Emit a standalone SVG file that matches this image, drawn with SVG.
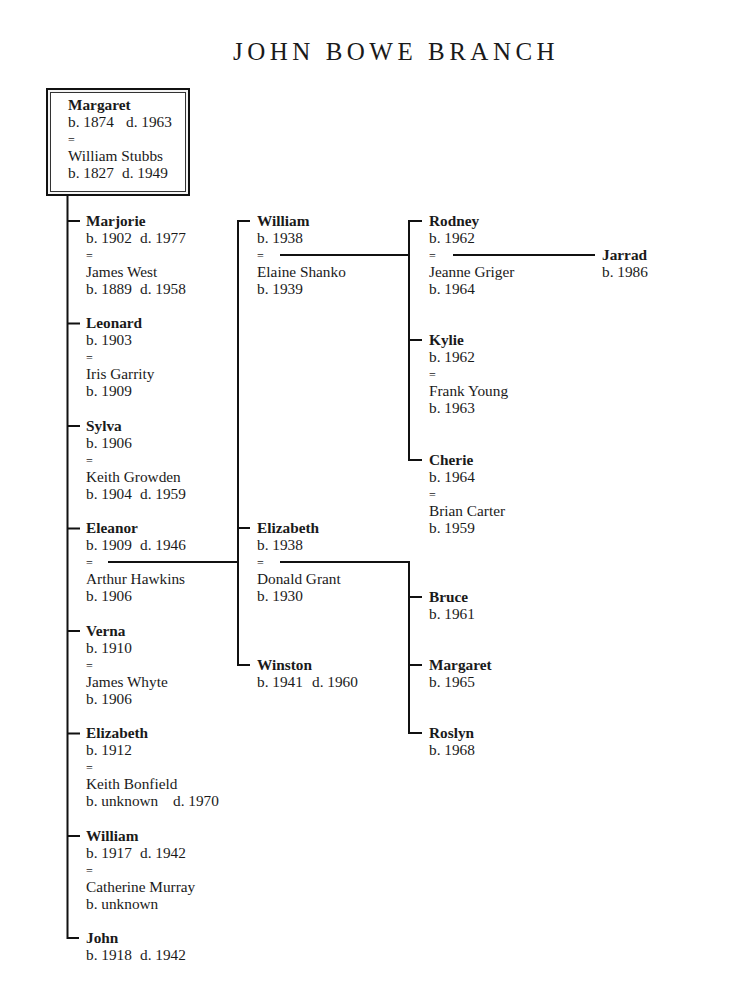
<svg xmlns="http://www.w3.org/2000/svg" width="736" height="1000" viewBox="0 0 736 1000">
<style>
text{font-family:"Liberation Serif","Times New Roman",serif;font-size:15.3px;fill:#1a1a1a}
.n{font-weight:bold}
.t{font-size:25px;letter-spacing:4.5px}
.eq{font-size:12px}
.c{fill:none;stroke:#111;stroke-width:2}
</style>
<rect width="736" height="1000" fill="#fff"/>
<text class="t" x="233" y="60">JOHN BOWE BRANCH</text>

<g id="connectors" class="c">
<path d="M67.5,196 V938 H79"/>
<path d="M67 221 H80 M67 323.5 H80 M67 426 H80 M67 528.5 H80 M67 631 H80 M67 733.5 H80 M67 836 H80"/>
<path d="M108,562 H238"/>
<path d="M250,221 H238 V665 H250 M238,528 H250"/>
<path d="M280,255 H409"/>
<path d="M422,221 H409 V460 H422 M409,340 H422"/>
<path d="M453,255 H595"/>
<path d="M280,562 H409 V733 H422 M409,597 H422 M409,665 H422"/>
</g>

<g id="margaret-root">
<rect x="47" y="89" width="142" height="106" fill="#f4f4f4" stroke="#111" stroke-width="2"/>
<rect x="50.5" y="92.5" width="135" height="99" fill="#fff" stroke="#333" stroke-width="1"/>
<text class="n" x="68" y="110">Margaret</text>
<text x="68" y="127">b. 1874</text><text x="126" y="127">d. 1963</text>
<text class="eq" x="68" y="144">=</text>
<text x="68" y="161">William Stubbs</text>
<text x="68" y="178">b. 1827</text><text x="122" y="178">d. 1949</text>
</g>

<g id="marjorie">
<text class="n" x="86" y="226">Marjorie</text>
<text x="86" y="243">b. 1902</text><text x="140" y="243">d. 1977</text>
<text class="eq" x="86" y="260">=</text>
<text x="86" y="277">James West</text>
<text x="86" y="294">b. 1889</text><text x="140" y="294">d. 1958</text>
</g>
<g id="leonard">
<text class="n" x="86" y="328">Leonard</text>
<text x="86" y="345">b. 1903</text>
<text class="eq" x="86" y="362">=</text>
<text x="86" y="379">Iris Garrity</text>
<text x="86" y="396">b. 1909</text>
</g>
<g id="sylva">
<text class="n" x="86" y="431">Sylva</text>
<text x="86" y="448">b. 1906</text>
<text class="eq" x="86" y="465">=</text>
<text x="86" y="482">Keith Growden</text>
<text x="86" y="499">b. 1904</text><text x="140" y="499">d. 1959</text>
</g>
<g id="eleanor">
<text class="n" x="86" y="533">Eleanor</text>
<text x="86" y="550">b. 1909</text><text x="140" y="550">d. 1946</text>
<text class="eq" x="86" y="567">=</text>
<text x="86" y="584">Arthur Hawkins</text>
<text x="86" y="601">b. 1906</text>
</g>
<g id="verna">
<text class="n" x="86" y="636">Verna</text>
<text x="86" y="653">b. 1910</text>
<text class="eq" x="86" y="670">=</text>
<text x="86" y="687">James Whyte</text>
<text x="86" y="704">b. 1906</text>
</g>
<g id="elizabeth-1912">
<text class="n" x="86" y="738">Elizabeth</text>
<text x="86" y="755">b. 1912</text>
<text class="eq" x="86" y="772">=</text>
<text x="86" y="789">Keith Bonfield</text>
<text x="86" y="806">b. unknown</text><text x="173" y="806">d. 1970</text>
</g>
<g id="william-1917">
<text class="n" x="86" y="841">William</text>
<text x="86" y="858">b. 1917</text><text x="140" y="858">d. 1942</text>
<text class="eq" x="86" y="875">=</text>
<text x="86" y="892">Catherine Murray</text>
<text x="86" y="909">b. unknown</text>
</g>
<g id="john">
<text class="n" x="86" y="943">John</text>
<text x="86" y="960">b. 1918</text><text x="140" y="960">d. 1942</text>
</g>

<g id="william-1938">
<text class="n" x="257" y="226">William</text>
<text x="257" y="243">b. 1938</text>
<text class="eq" x="257" y="260">=</text>
<text x="257" y="277">Elaine Shanko</text>
<text x="257" y="294">b. 1939</text>
</g>
<g id="elizabeth-1938">
<text class="n" x="257" y="533">Elizabeth</text>
<text x="257" y="550">b. 1938</text>
<text class="eq" x="257" y="567">=</text>
<text x="257" y="584">Donald Grant</text>
<text x="257" y="601">b. 1930</text>
</g>
<g id="winston">
<text class="n" x="257" y="670">Winston</text>
<text x="257" y="687">b. 1941</text><text x="312" y="687">d. 1960</text>
</g>

<g id="rodney">
<text class="n" x="429" y="226">Rodney</text>
<text x="429" y="243">b. 1962</text>
<text class="eq" x="429" y="260">=</text>
<text x="429" y="277">Jeanne Griger</text>
<text x="429" y="294">b. 1964</text>
</g>
<g id="kylie">
<text class="n" x="429" y="345">Kylie</text>
<text x="429" y="362">b. 1962</text>
<text class="eq" x="429" y="379">=</text>
<text x="429" y="396">Frank Young</text>
<text x="429" y="413">b. 1963</text>
</g>
<g id="cherie">
<text class="n" x="429" y="465">Cherie</text>
<text x="429" y="482">b. 1964</text>
<text class="eq" x="429" y="499">=</text>
<text x="429" y="516">Brian Carter</text>
<text x="429" y="533">b. 1959</text>
</g>
<g id="jarrad">
<text class="n" x="602" y="260">Jarrad</text>
<text x="602" y="277">b. 1986</text>
</g>
<g id="bruce">
<text class="n" x="429" y="602">Bruce</text>
<text x="429" y="619">b. 1961</text>
</g>
<g id="margaret-1965">
<text class="n" x="429" y="670">Margaret</text>
<text x="429" y="687">b. 1965</text>
</g>
<g id="roslyn">
<text class="n" x="429" y="738">Roslyn</text>
<text x="429" y="755">b. 1968</text>
</g>
</svg>
